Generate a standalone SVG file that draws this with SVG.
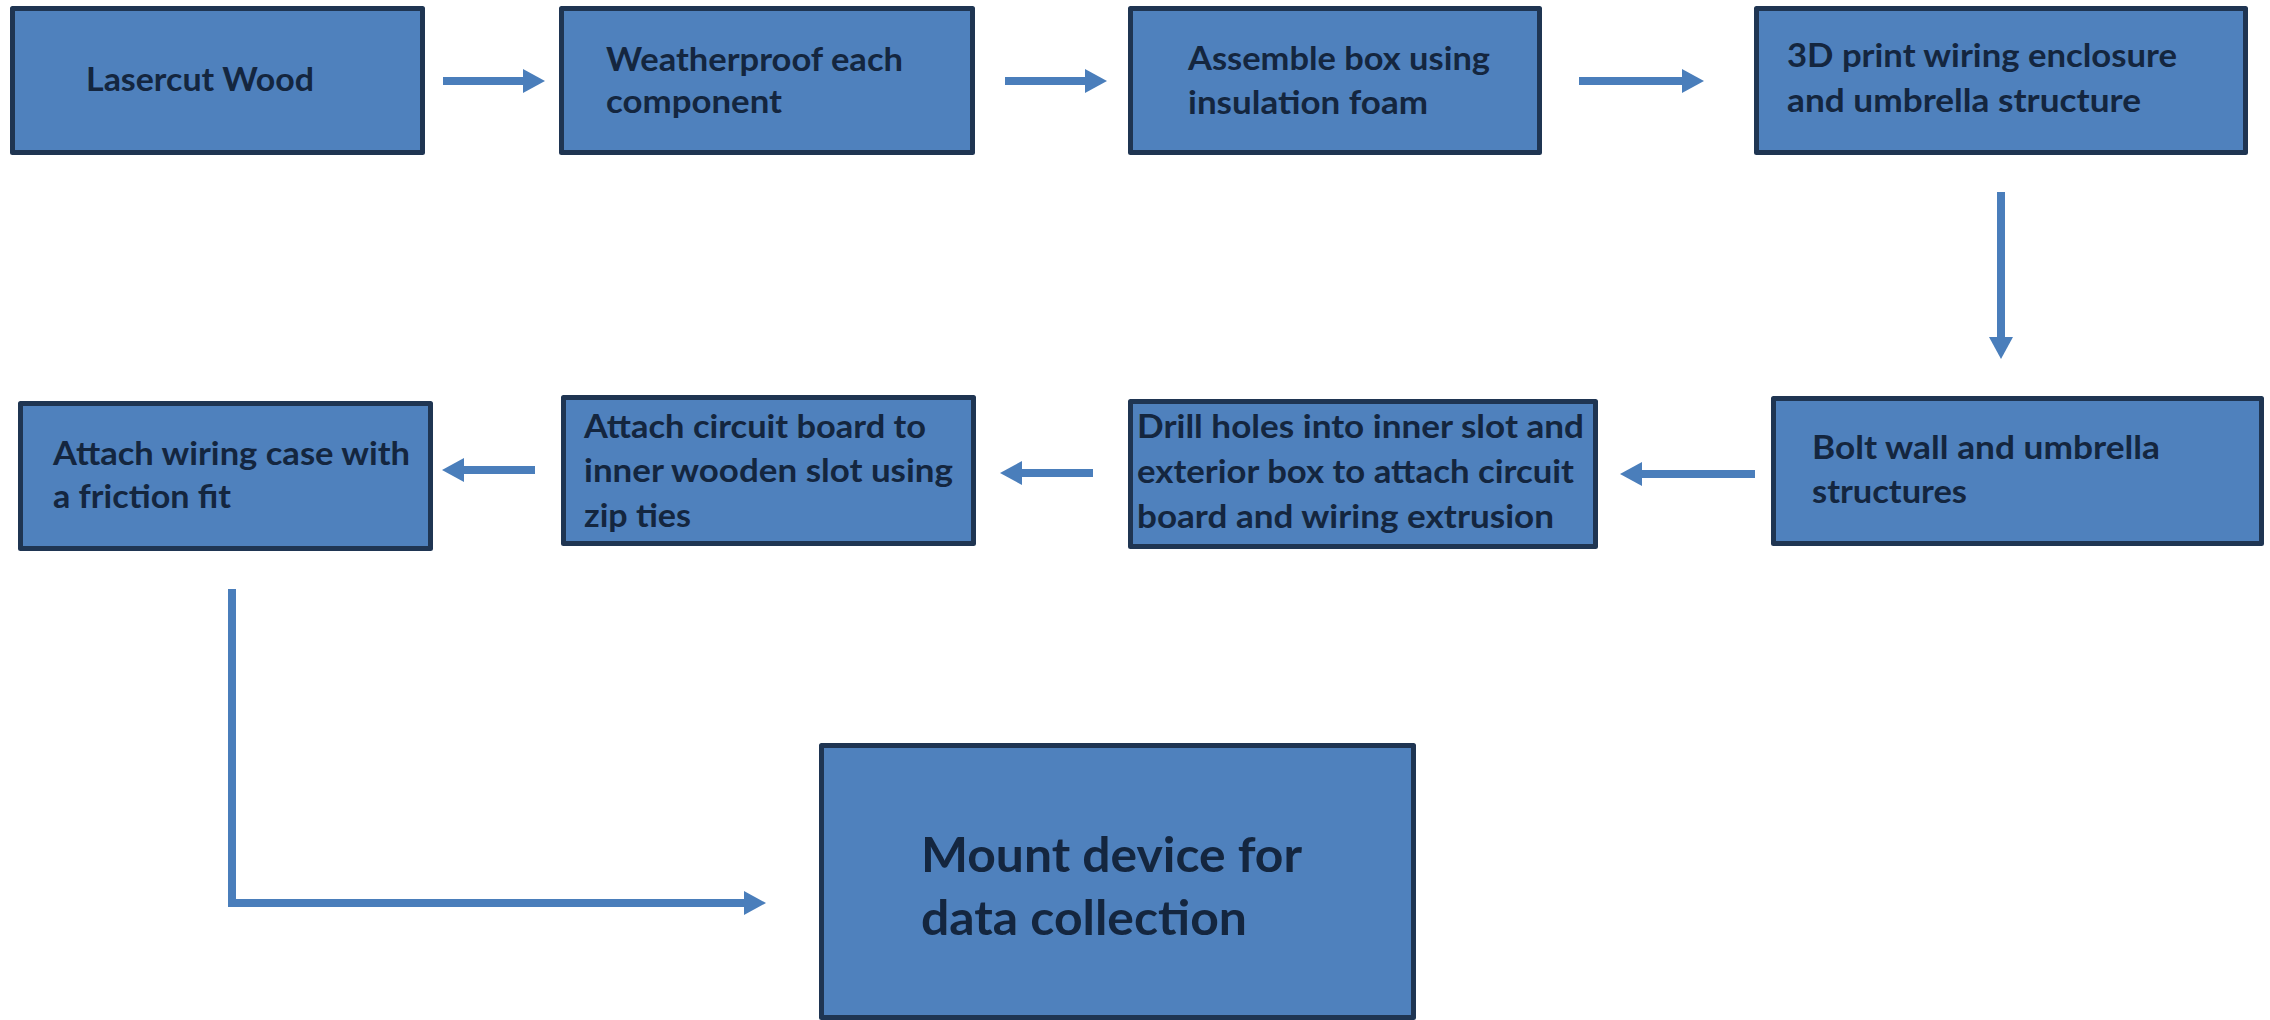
<svg xmlns="http://www.w3.org/2000/svg" width="2270" height="1020" viewBox="0 0 2270 1020">
<defs>
<style>
.box{fill:#4F81BD;stroke:#1F3552;stroke-width:5;stroke-linejoin:round}
.t{font-family:Lato,"Open Sans","Liberation Sans",sans-serif;font-weight:bold;font-size:32px;fill:#14263F}
.big{font-size:47px}
.c{fill:none;stroke:#4A7EBB;stroke-width:8}
</style>
<marker id="ah" markerUnits="userSpaceOnUse" markerWidth="24" markerHeight="26" refX="0" refY="12" orient="auto" viewBox="0 0 24 24">
<path d="M0,0 L22,12 L0,24 z" fill="#4A7EBB"/>
</marker>
</defs>
<rect width="2270" height="1020" fill="#ffffff"/>
<g id="connectors">
<path class="c" d="M443,81 H523" marker-end="url(#ah)"/>
<path class="c" d="M1005,81 H1085" marker-end="url(#ah)"/>
<path class="c" d="M1579,81 H1682" marker-end="url(#ah)"/>
<path class="c" d="M2001,192 V337" marker-end="url(#ah)"/>
<path class="c" d="M1755,474 H1642" marker-end="url(#ah)"/>
<path class="c" d="M1093,473 H1022" marker-end="url(#ah)"/>
<path class="c" d="M535,470 H464" marker-end="url(#ah)"/>
<path class="c" d="M232,589 V903 H744" marker-end="url(#ah)"/>
</g>
<g id="n1">
<rect class="box" x="12.5" y="8.5" width="410" height="144"/>
<text class="t" x="86" y="91" textLength="228" lengthAdjust="spacingAndGlyphs">Lasercut Wood</text>
</g>
<g id="n2">
<rect class="box" x="561.5" y="8.5" width="411" height="144"/>
<text class="t" x="606" y="71" textLength="297" lengthAdjust="spacingAndGlyphs">Weatherproof each</text>
<text class="t" x="606" y="113" textLength="176" lengthAdjust="spacingAndGlyphs">component</text>
</g>
<g id="n3">
<rect class="box" x="1130.5" y="8.5" width="409" height="144"/>
<text class="t" x="1188" y="70" textLength="302" lengthAdjust="spacingAndGlyphs">Assemble box using</text>
<text class="t" x="1188" y="114" textLength="240" lengthAdjust="spacingAndGlyphs">insulation foam</text>
</g>
<g id="n4">
<rect class="box" x="1756.5" y="8.5" width="489" height="144"/>
<text class="t" x="1787" y="67" textLength="390" lengthAdjust="spacingAndGlyphs">3D print wiring enclosure</text>
<text class="t" x="1787" y="112" textLength="354" lengthAdjust="spacingAndGlyphs">and umbrella structure</text>
</g>
<g id="n5">
<rect class="box" x="1773.5" y="398.5" width="488" height="145"/>
<text class="t" x="1812" y="459" textLength="348" lengthAdjust="spacingAndGlyphs">Bolt wall and umbrella</text>
<text class="t" x="1812" y="503" textLength="155" lengthAdjust="spacingAndGlyphs">structures</text>
</g>
<g id="n6">
<rect class="box" x="1130.5" y="401.5" width="465" height="145"/>
<text class="t" x="1137" y="438" textLength="447" lengthAdjust="spacingAndGlyphs">Drill holes into inner slot and</text>
<text class="t" x="1137" y="483" textLength="437" lengthAdjust="spacingAndGlyphs">exterior box to attach circuit</text>
<text class="t" x="1137" y="528" textLength="417" lengthAdjust="spacingAndGlyphs">board and wiring extrusion</text>
</g>
<g id="n7">
<rect class="box" x="563.5" y="397.5" width="410" height="146"/>
<text class="t" x="584" y="438" textLength="342" lengthAdjust="spacingAndGlyphs">Attach circuit board to</text>
<text class="t" x="584" y="482" textLength="369" lengthAdjust="spacingAndGlyphs">inner wooden slot using</text>
<text class="t" x="584" y="527" textLength="107" lengthAdjust="spacingAndGlyphs">zip ties</text>
</g>
<g id="n8">
<rect class="box" x="20.5" y="403.5" width="410" height="145"/>
<text class="t" x="53" y="465" textLength="357" lengthAdjust="spacingAndGlyphs">Attach wiring case with</text>
<text class="t" x="53" y="508" textLength="178" lengthAdjust="spacingAndGlyphs">a friction fit</text>
</g>
<g id="n9">
<rect class="box" x="821.5" y="745.5" width="592" height="272"/>
<text class="t big" x="921" y="872" textLength="381" lengthAdjust="spacingAndGlyphs">Mount device for</text>
<text class="t big" x="921" y="935" textLength="326" lengthAdjust="spacingAndGlyphs">data collection</text>
</g>
</svg>
